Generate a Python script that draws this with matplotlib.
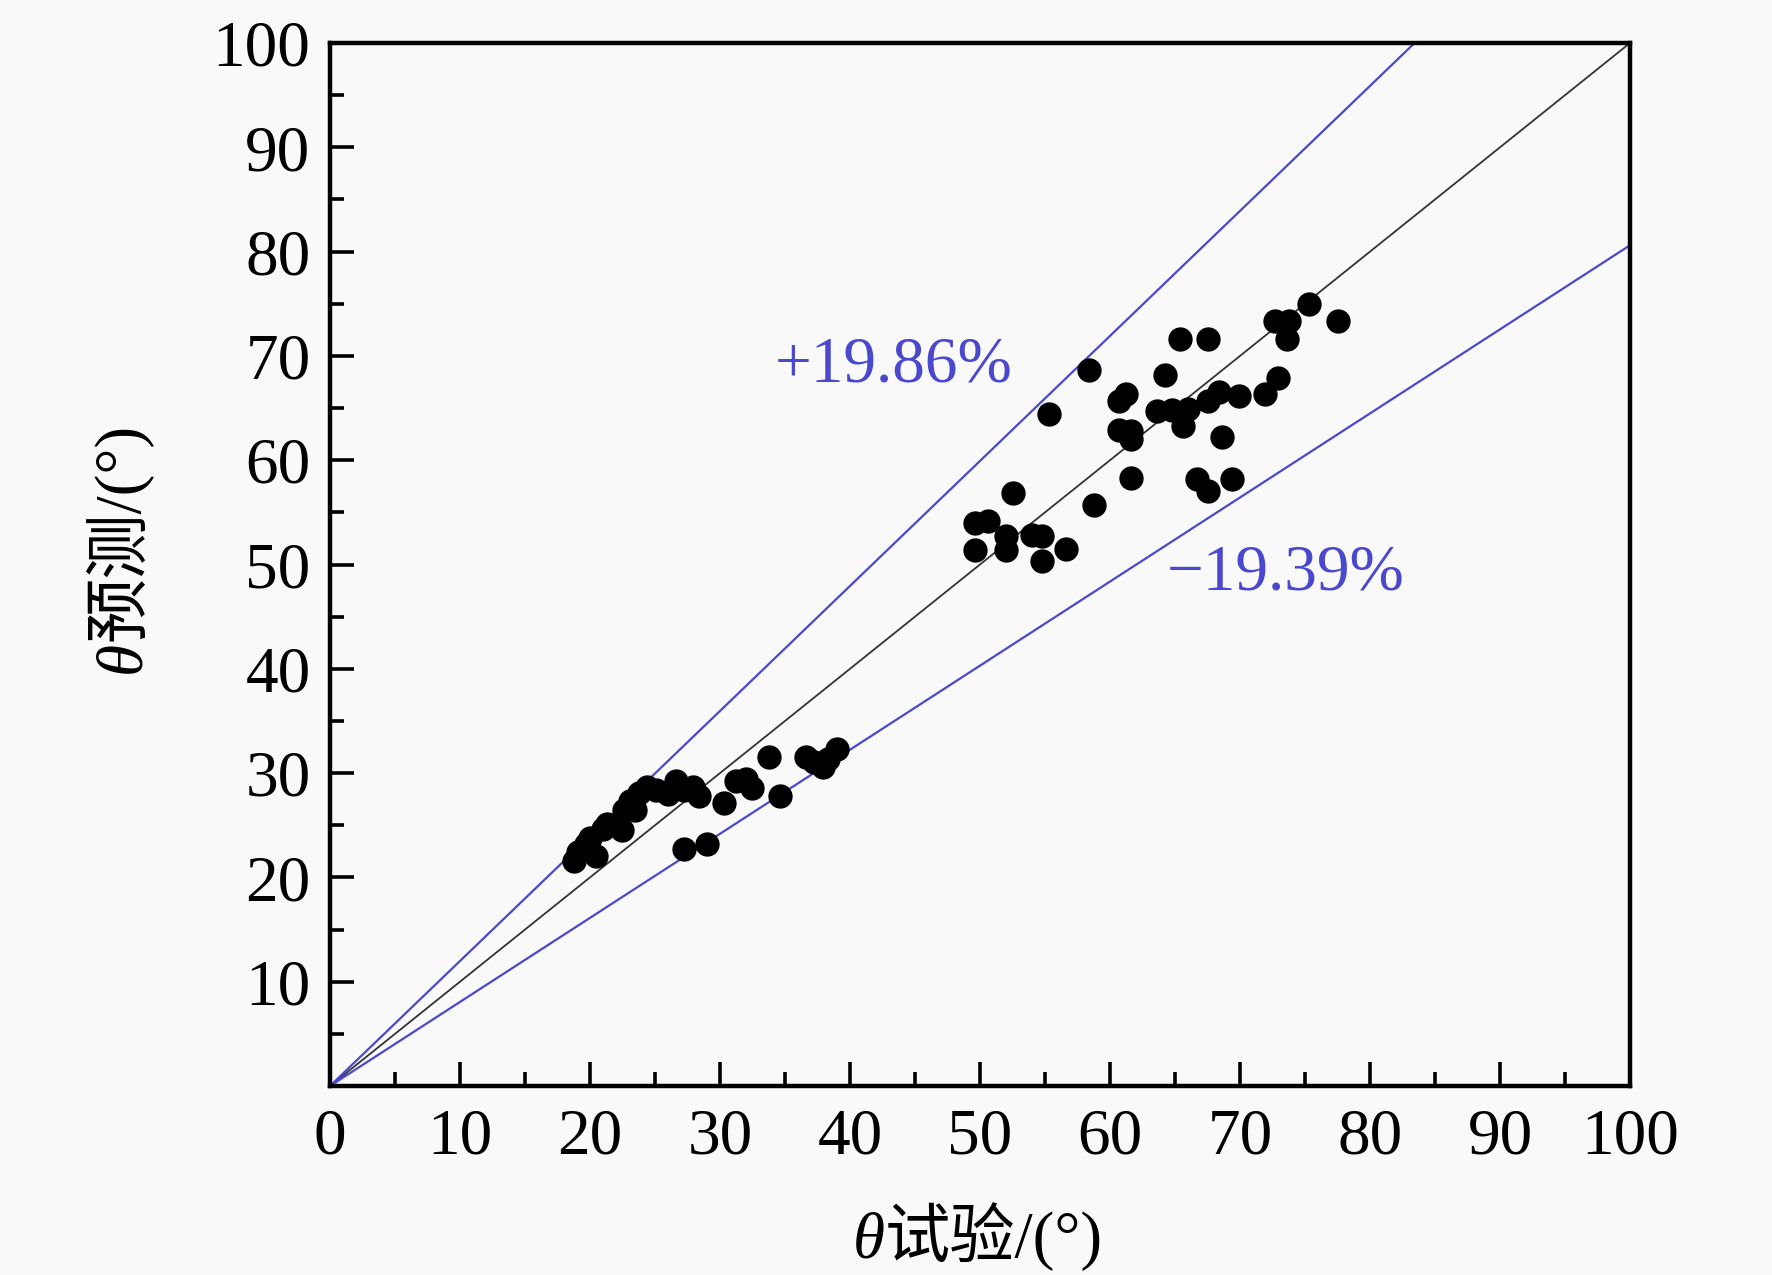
import numpy as np
import matplotlib
matplotlib.use("Agg")
import matplotlib.pyplot as plt

x_test = [18.8, 19.1, 19.7, 20.0, 20.5, 21.0, 21.3, 22.5, 22.6, 23.1, 23.5, 23.8,
          24.4, 25.1, 26.0, 26.6, 27.2, 27.9, 28.4, 27.2, 29.0, 30.3, 31.2, 32.0,
          32.5, 33.8, 34.6, 36.6, 37.2, 37.9, 38.3, 39.0,
          49.6, 49.6, 50.6, 52.0, 52.0, 52.5, 54.0, 54.8, 54.8, 56.6, 55.3, 58.4,
          58.8, 60.7, 61.2, 60.7, 61.6, 61.6, 61.6, 63.6, 64.2, 64.8, 65.4, 65.6,
          66.0, 66.7, 67.5, 67.5, 67.5, 68.4, 68.6, 69.9, 69.4, 71.9, 72.7, 72.9,
          73.6, 73.8, 75.3, 77.5]
y_pred = [21.6, 22.4, 23.2, 23.8, 22.1, 24.6, 25.1, 24.5, 26.5, 27.3, 26.5, 28.1,
          28.7, 28.4, 28.0, 29.2, 28.4, 28.7, 27.8, 22.7, 23.2, 27.1, 29.2, 29.4,
          28.6, 31.5, 27.8, 31.5, 31.1, 30.6, 31.4, 32.3,
          51.4, 54.0, 54.2, 52.7, 51.4, 56.9, 52.8, 52.7, 50.3, 51.5, 64.4, 68.6,
          55.7, 65.7, 66.3, 62.9, 62.0, 62.8, 58.3, 64.7, 68.2, 64.8, 71.6, 63.3,
          64.9, 58.2, 71.6, 57.0, 65.7, 66.5, 62.2, 66.2, 58.2, 66.3, 73.3, 67.9,
          71.6, 73.3, 75.0, 73.3]

err_upper = 19.86
err_lower = -19.39
x_ticks = [0, 10, 20, 30, 40, 50, 60, 70, 80, 90, 100]
y_ticks = [10, 20, 30, 40, 50, 60, 70, 80, 90, 100]

serif = "Liberation Serif"
mixed = ["Liberation Serif", "Noto Sans CJK SC"]
blue = "#4a48cc"
bg = "#f9f9f9"
fs = 47

fig = plt.figure(figsize=(17.72, 12.75), dpi=100, facecolor=bg)
ax = fig.add_axes([0.1862, 0.1482, 0.7337, 0.8181], facecolor=bg)

line_x = np.array([0, 100])
ax.plot(line_x, line_x, color="#333333", lw=1.3, zorder=2)
ax.plot(line_x, line_x * (1 + err_upper / 100), color=blue, lw=1.6, zorder=2)
ax.plot(line_x, line_x * (1 + err_lower / 100), color=blue, lw=1.6, zorder=2)
ax.plot(x_test, y_pred, "o", color="black", ms=16.5, mec="black", zorder=3)

ax.text(34.2, 67.5, "+19.86%", color=blue, fontsize=fs, family=serif,
        ha="left", va="baseline")
ax.text(64.4, 47.6, "\u221219.39%", color=blue, fontsize=fs, family=serif,
        ha="left", va="baseline")

ax.set_xlim(0, 100)
ax.set_ylim(0, 100)
ax.set_xticks(x_ticks)
ax.set_yticks(y_ticks)
ax.set_xticks(np.arange(5, 100, 10), minor=True)
ax.set_yticks(np.arange(5, 100, 10), minor=True)
for lab in ax.get_xticklabels() + ax.get_yticklabels():
    lab.set_family(serif)
    lab.set_fontsize(fs)
ax.tick_params(which="major", direction="in", length=17, width=2.6, pad=14)
ax.tick_params(which="minor", direction="in", length=10, width=2.6)
ax.tick_params(axis="x", pad=16)
for sp in ax.spines.values():
    sp.set_linewidth(3.2)

# axis titles: italic theta followed by Chinese text
tx = fig.text(0.4814, 0.0141, "\u03b8", fontsize=fs, family=serif, style="italic",
              ha="left", va="baseline")
ax.annotate("试验/(°)", xy=(1, 0.0141), xycoords=(tx, "figure fraction"),
            fontsize=fs, family=mixed, ha="left", va="baseline")

ty = fig.text(0.0784, 0.472, "\u03b8", fontsize=fs, family=serif, style="italic",
              rotation=90, rotation_mode="anchor", ha="left", va="baseline")
ax.annotate("预测/(°)", xy=(0.0784, 1), xycoords=("figure fraction", ty),
            fontsize=fs, family=mixed, rotation=90, rotation_mode="anchor",
            ha="left", va="baseline")

fig.savefig("out.png", dpi=100, facecolor=bg)
